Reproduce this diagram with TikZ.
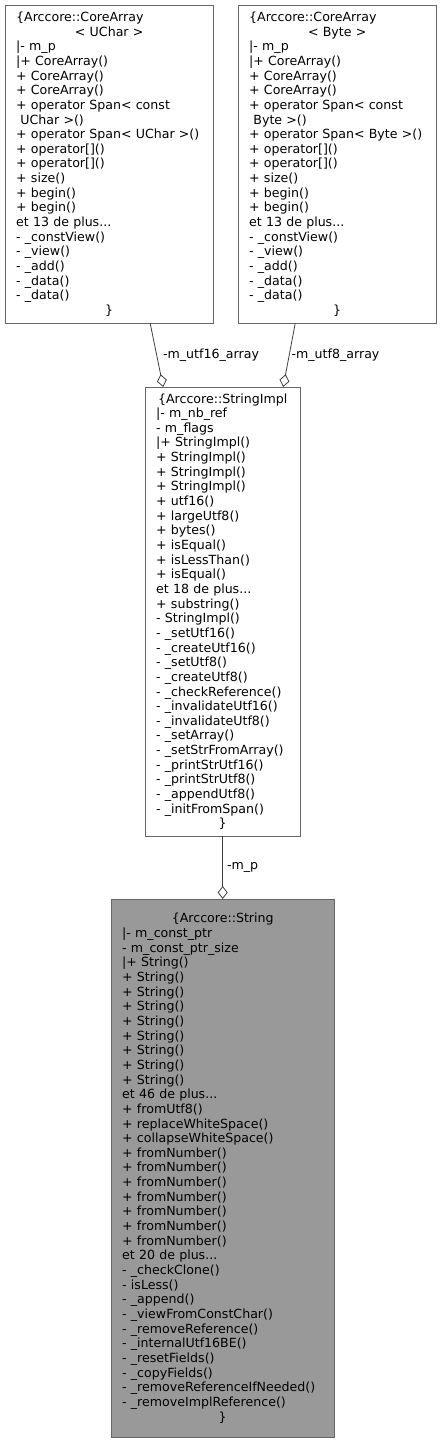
\documentclass[tikz,border=0pt]{standalone}
\usepackage{fontspec}
\setmainfont{DejaVu Sans}
\definecolor{boxline}{RGB}{102,102,102}
\definecolor{edgeline}{RGB}{64,64,64}
\definecolor{curfill}{RGB}{153,153,153}
\usetikzlibrary{arrows.meta,positioning}
\newcommand{\ctrline}[1]{\makebox[\linewidth][c]{#1}}

\begin{document}
\begin{tikzpicture}[x=1pt, y=-1pt,
      cls/.style={draw=boxline, anchor=north west, align=left,
                  inner xsep=11pt, inner ysep=0pt,
                  font=\fontsize{12.6}{14.65}\selectfont},
      cur/.style={cls, fill=curfill},
      agg/.style={{Diamond[open, length=13pt, width=10pt]}-, edgeline, line width=0.8pt},
      lab/.style={anchor=west, inner sep=2pt, text=black, font=\fontsize{12.6}{14.65}\selectfont}
    ]
    \useasboundingbox (0,0) rectangle (442,1444);
    % Arccore::CoreArray< UChar >
    \node[cls, minimum width=208pt, minimum height=318pt, text width=186pt] (uchar) at (5,5) {%
      \{Arccore::CoreArray\\
      \ctrline{< UChar >}\\
      |- m\_p\\
      |+ CoreArray()\\
      + CoreArray()\\
      + CoreArray()\\
      + operator Span< const\\
      \ UChar >()\\
      \mbox{+ operator Span< UChar >()}\\
      + operator[]()\\
      + operator[]()\\
      + size()\\
      + begin()\\
      + begin()\\
      et 13 de plus...\\
      - \_constView()\\
      - \_view()\\
      - \_add()\\
      - \_data()\\
      - \_data()\\
      \ctrline{\}}};
    % Arccore::CoreArray< Byte >
    \node[cls, minimum width=198pt, minimum height=318pt, text width=176pt] (byte) at (238,5) {%
      \{Arccore::CoreArray\\
      \ctrline{< Byte >}\\
      |- m\_p\\
      |+ CoreArray()\\
      + CoreArray()\\
      + CoreArray()\\
      + operator Span< const\\
      \ Byte >()\\
      \mbox{+ operator Span< Byte >()}\\
      + operator[]()\\
      + operator[]()\\
      + size()\\
      + begin()\\
      + begin()\\
      et 13 de plus...\\
      - \_constView()\\
      - \_view()\\
      - \_add()\\
      - \_data()\\
      - \_data()\\
      \ctrline{\}}};
    % Arccore::StringImpl
    \node[cls, minimum width=155pt, minimum height=449pt, text width=133pt] (impl) at (145,387) {%
      \ctrline{\{Arccore::StringImpl}\\
      |- m\_nb\_ref\\
      - m\_flags\\
      |+ StringImpl()\\
      + StringImpl()\\
      + StringImpl()\\
      + StringImpl()\\
      + utf16()\\
      + largeUtf8()\\
      + bytes()\\
      + isEqual()\\
      + isLessThan()\\
      + isEqual()\\
      et 18 de plus...\\
      + substring()\\
      - StringImpl()\\
      - \_setUtf16()\\
      - \_createUtf16()\\
      - \_setUtf8()\\
      - \_createUtf8()\\
      - \_checkReference()\\
      - \_invalidateUtf16()\\
      - \_invalidateUtf8()\\
      - \_setArray()\\
      - \_setStrFromArray()\\
      - \_printStrUtf16()\\
      - \_printStrUtf8()\\
      - \_appendUtf8()\\
      - \_initFromSpan()\\
      \ctrline{\}}};
    % Arccore::String
    \node[cur, minimum width=223pt, minimum height=538pt, text width=201pt] (str) at (111,899) {%
      \ctrline{\{Arccore::String}\\
      |- m\_const\_ptr\\
      - m\_const\_ptr\_size\\
      |+ String()\\
      + String()\\
      + String()\\
      + String()\\
      + String()\\
      + String()\\
      + String()\\
      + String()\\
      + String()\\
      et 46 de plus...\\
      + fromUtf8()\\
      + replaceWhiteSpace()\\
      + collapseWhiteSpace()\\
      + fromNumber()\\
      + fromNumber()\\
      + fromNumber()\\
      + fromNumber()\\
      + fromNumber()\\
      + fromNumber()\\
      + fromNumber()\\
      et 20 de plus...\\
      - \_checkClone()\\
      - isLess()\\
      - \_append()\\
      - \_viewFromConstChar()\\
      - \_removeReference()\\
      - \_internalUtf16BE()\\
      - \_resetFields()\\
      - \_copyFields()\\
      - \_removeReferenceIfNeeded()\\
      - \_removeImplReference()\\
      \ctrline{\}}};
    % members
    \draw[agg] ([xshift=-59.5pt]impl.north) -- node[lab, pos=0.5, xshift=4pt] {-m\_utf16\_array} ([xshift=41pt]uchar.south);
    \draw[agg] ([xshift=60.5pt]impl.north) -- node[lab, pos=0.5] {-m\_utf8\_array} ([xshift=-42pt]byte.south);
    \draw[agg] (str.north) -- node[lab, pos=0.5, xshift=2pt] {-m\_p} (impl.south);
  \end{tikzpicture}
\end{document}
